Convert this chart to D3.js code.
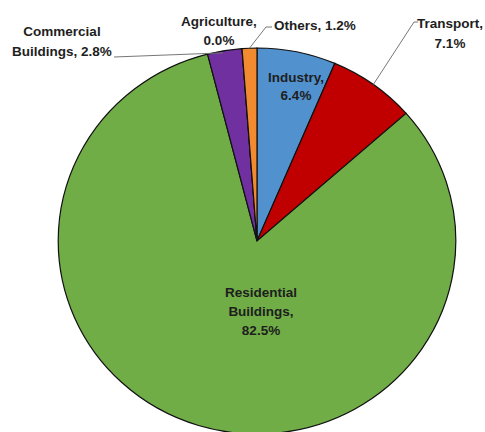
<!DOCTYPE html>
<html><head><meta charset="utf-8">
<script src="https://cdn.jsdelivr.net/npm/d3@7"></script>
<style>body{margin:0;background:#fff}text{font-family:"Liberation Sans",Arial,sans-serif;font-weight:bold;font-size:13.5px;fill:#1e1e1e}</style>
</head><body><svg id="c" width="485" height="432"></svg>
<script>
const categories = ["Industry","Transport","Residential Buildings","Commercial Buildings","Agriculture","Others"];
const values = [6.4, 7.1, 82.5, 2.8, 0.0, 1.2];
const colors = ["#5191CE","#C00000","#70AD47","#7030A0","#9E9E9E","#F28B30"];
const labelLines = [["Industry,","6.4%"],["Transport,","7.1%"],["Residential","Buildings,","82.5%"],["Commercial","Buildings, 2.8%"],["Agriculture,","0.0%"],["Others, 1.2%"]];

const svg = d3.select("#c");
const cx = 257, cy = 241, R = 193, sx = 1.03;
const data = categories.map((c,i)=>({c, v: values[i], col: colors[i], lines: labelLines[i]}));
const pie = d3.pie().sort(null).value(d=>d.v).startAngle(0).endAngle(2*Math.PI);
const arc = d3.arc().innerRadius(0).outerRadius(R);
const arcs = pie(data);
const g = svg.append("g").attr("transform",`translate(${cx},${cy}) scale(${sx},1)`);
g.selectAll("path").data(arcs).enter().append("path")
  .attr("d",arc).attr("fill",d=>d.data.col)
  .attr("stroke","#111").attr("stroke-width",1.2).attr("vector-effect","non-scaling-stroke");

function edge(a, frac, rr){const ang=a.startAngle+(a.endAngle-a.startAngle)*frac; const r=rr||R; return [cx+sx*r*Math.sin(ang), cy-r*Math.cos(ang)];}
function label(x, y, lines, lh){
  const t = svg.append("text").attr("text-anchor","middle");
  lines.forEach((l,i)=>t.append("tspan").attr("x",x).attr("y",y+i*lh).text(l));
}
const leader = pts => svg.append("path").attr("d",d3.line()(pts)).attr("fill","none").attr("stroke","#777").attr("stroke-width",1);

// Industry (inside)
label(296, 82, labelLines[0], 18);
// Transport
{const p = edge(arcs[1],0.5,R); leader([p,[414,22],[418,22]]); label(450, 28, labelLines[1], 20);}
// Residential (inside)
label(261, 297, labelLines[2], 19);
// Commercial
{const p = edge(arcs[3],0.45,R); leader([[114,57],[p[0],p[1]+2]]); label(62, 36, labelLines[3], 20);}
// Agriculture
label(219, 26, labelLines[4], 19);
// Others
{const p = edge(arcs[5],0.5,R); leader([p,[266,27],[272,27]]); label(315, 30, labelLines[5], 18);}
</script></body></html>
